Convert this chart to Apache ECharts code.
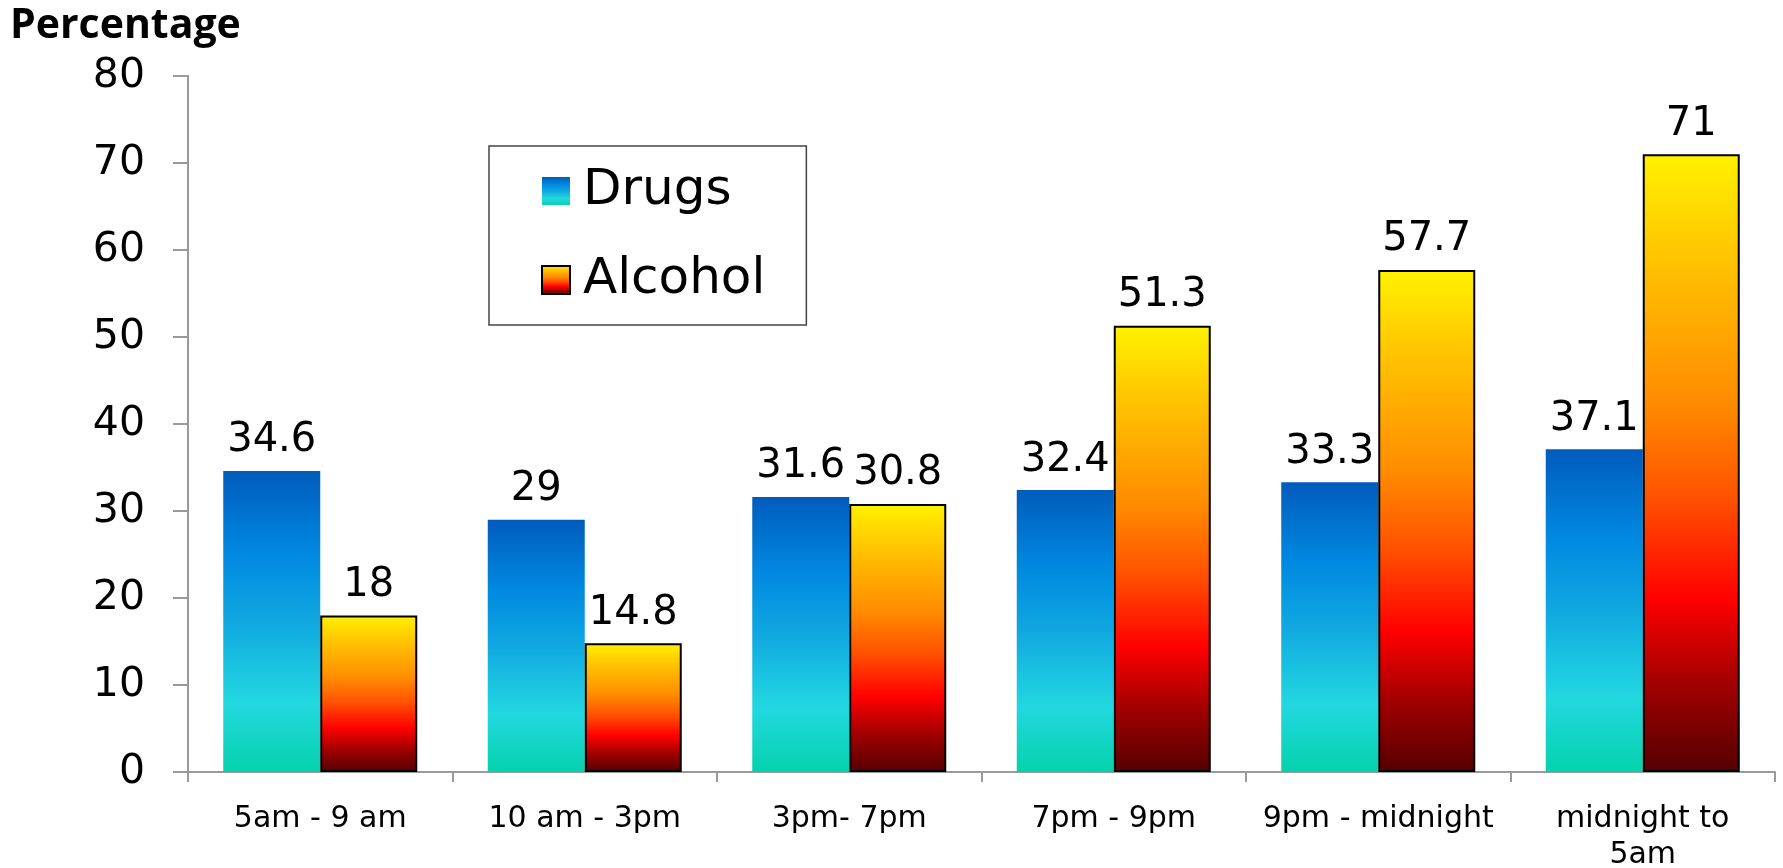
<!DOCTYPE html>
<html>
<head>
<meta charset="utf-8">
<title>Drugs and Alcohol by Time of Day</title>
<script src="https://cdn.jsdelivr.net/npm/echarts@6/dist/echarts.min.js"></script>
<style>
  html, body { margin: 0; padding: 0; background: #fff; }
  #chart { width: 1783px; height: 868px; }
</style>
</head>
<body>
<div id="chart"></div>
<script>
// Time-of-day bands along the x axis
const categories = ['5am - 9 am', '10 am - 3pm', '3pm- 7pm', '7pm - 9pm', '9pm - midnight', 'midnight to\n5am'];
// Percentage values per band
const drugs = [34.6, 29, 31.6, 32.4, 33.3, 37.1];
const alcohol = [18, 14.8, 30.8, 51.3, 57.7, 71];
// Value axis range
const yMin = 0;
const yMax = 80;
const yStep = 10;

const FONT = 'DejaVu Sans';
const AXIS_GREY = '#9a9a9a';

const drugsFill = new echarts.graphic.LinearGradient(0, 0, 0, 1, [
  { offset: 0.00, color: '#005cbc' },
  { offset: 0.27, color: '#0088e0' },
  { offset: 0.50, color: '#10a8e0' },
  { offset: 0.77, color: '#22d8e0' },
  { offset: 1.00, color: '#04d2ac' }
]);

const alcoholFill = new echarts.graphic.LinearGradient(0, 0, 0, 1, [
  { offset: 0.00, color: '#fff200' },
  { offset: 0.15, color: '#ffc800' },
  { offset: 0.40, color: '#ff8c00' },
  { offset: 0.56, color: '#ff5000' },
  { offset: 0.72, color: '#ff0000' },
  { offset: 0.86, color: '#a00000' },
  { offset: 1.00, color: '#550000' }
]);

const valueLabel = {
  show: true,
  position: 'top',
  distance: 10,
  color: '#000',
  fontFamily: FONT,
  fontSize: 40
};

const chart = echarts.init(document.getElementById('chart'), null, { renderer: 'canvas' });

chart.setOption({
  animation: false,
  backgroundColor: '#fff',
  title: {
    text: 'Percentage',
    left: 10,
    top: 6,
    padding: 0,
    textStyle: {
      fontFamily: 'Open Sans',
      fontWeight: 'bold',
      fontSize: 41,
      color: '#000'
    }
  },
  legend: {
    orient: 'vertical',
    left: 489,
    top: 146,
    padding: [16, 41, 16, 52],
    itemGap: 31,
    itemWidth: 28,
    itemHeight: 28,
    borderColor: '#444',
    borderWidth: 1.5,
    backgroundColor: '#fff',
    icon: 'rect',
    textStyle: {
      fontFamily: FONT,
      fontSize: 50,
      lineHeight: 48,
      color: '#000',
      padding: [10, 0, 0, 8]
    },
    data: ['Drugs', 'Alcohol']
  },
  grid: {
    left: 188,
    right: 8,
    top: 76,
    bottom: 96,
    containLabel: false,
    outerBoundsMode: 'none'
  },
  xAxis: {
    type: 'category',
    data: categories,
    axisLine: { show: true, lineStyle: { color: AXIS_GREY, width: 2 } },
    axisTick: { show: true, length: 10, lineStyle: { color: AXIS_GREY, width: 2 } },
    axisLabel: {
      interval: 0,
      margin: 29,
      color: '#000',
      fontFamily: FONT,
      fontSize: 30,
      lineHeight: 36
    }
  },
  yAxis: {
    type: 'value',
    min: yMin,
    max: yMax,
    interval: yStep,
    splitLine: { show: false },
    axisLine: { show: true, lineStyle: { color: AXIS_GREY, width: 2 } },
    axisTick: { show: true, length: 15, lineStyle: { color: AXIS_GREY, width: 2 } },
    axisLabel: {
      margin: 43,
      color: '#000',
      fontFamily: FONT,
      fontSize: 41
    }
  },
  series: [
    {
      name: 'Drugs',
      type: 'bar',
      data: drugs,
      barWidth: 97,
      barGap: '0%',
      itemStyle: { color: drugsFill },
      label: valueLabel
    },
    {
      name: 'Alcohol',
      type: 'bar',
      data: alcohol,
      barWidth: 97,
      barGap: '0%',
      itemStyle: { color: alcoholFill, borderColor: '#000', borderWidth: 2 },
      label: valueLabel
    }
  ]
});
</script>
</body>
</html>
